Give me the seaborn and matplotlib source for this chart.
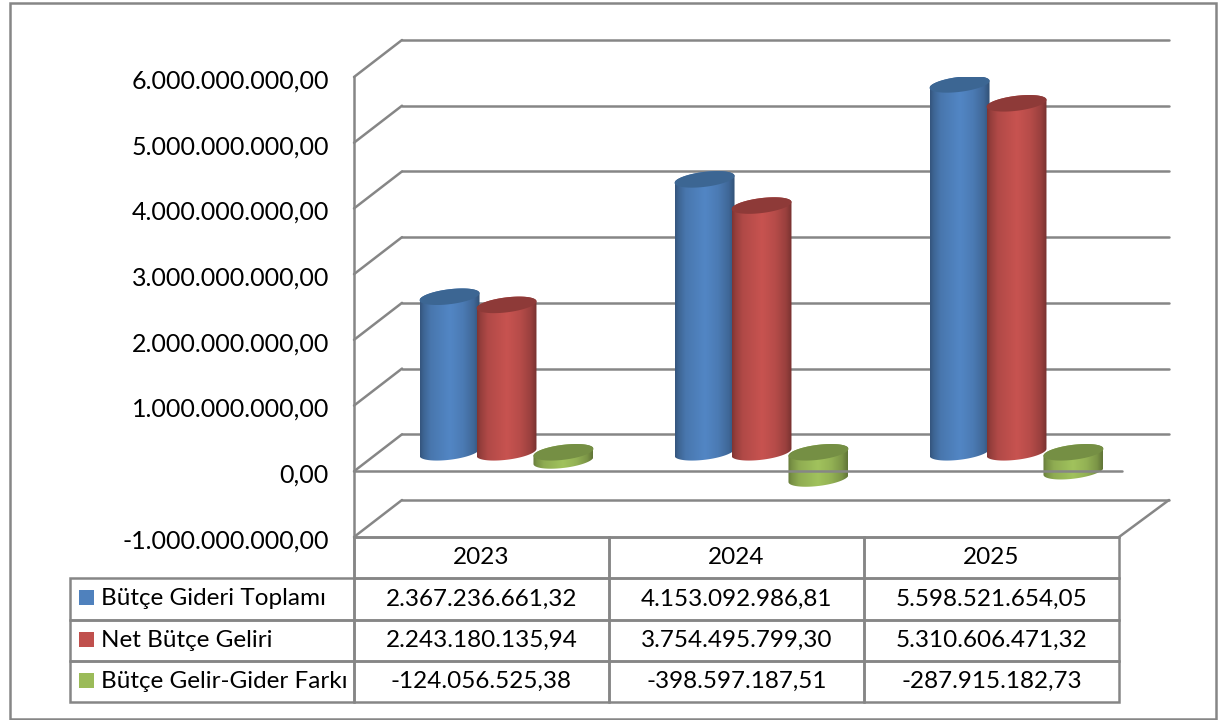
import numpy as np
import pandas as pd
import seaborn as sns
import matplotlib
matplotlib.use("Agg")
import matplotlib.pyplot as plt
from matplotlib.patches import Polygon, Rectangle
from matplotlib.ticker import FuncFormatter
from matplotlib.transforms import ScaledTranslation

years = ["2023", "2024", "2025"]
series_names = ["Bütçe Gideri Toplamı", "Net Bütçe Geliri", "Bütçe Gelir-Gider Farkı"]
gider = [2367236661.32, 4153092986.81, 5598521654.05]
gelir = [2243180135.94, 3754495799.30, 5310606471.32]
fark = [-124056525.38, -398597187.51, -287915182.73]
series_colors = ["#4F81BD", "#C0504D", "#9BBB59"]
cap_colors = ["#3C6693", "#8E3A38", "#758F44"]
value_ticks = [-1e9, 0, 1e9, 2e9, 3e9, 4e9, 5e9, 6e9]

GRID = "#868686"
LW = 1.8
W, H = 1219, 720


def tr(v):
    s = f"{v:,.2f}"
    return s.replace(",", "#").replace(".", ",").replace("#", ".")


sns.set_theme(style="white")
plt.rcParams["font.family"] = ["Lato", "DejaVu Sans"]

fig = plt.figure(figsize=(W / 100, H / 100), dpi=100, facecolor="white")
ax = fig.add_axes([354 / W, (H - 537) / H, 765 / W, 460 / H])

df = pd.DataFrame({
    "year": years * 3,
    "series": [n for n in series_names for _ in years],
    "value": gider + gelir + fark,
})
sns.barplot(data=df, x="year", y="value", hue="series", hue_order=series_names,
            palette=series_colors, width=0.67, gap=0, errorbar=None, legend=False,
            saturation=1, ax=ax)

XLIM, YLIM = (-0.5, 2.5), (-1e9, 6e9)
px_x = 3.0 / 765
px_y = 7e9 / 460
DEPTH_X, DEPTH_Y = 48 * px_x, 37 * px_y
MID_X, MID_Y = 25 * px_x, 19 * px_y

# walls and gridlines
for v in value_ticks:
    ax.plot([XLIM[0], XLIM[0] + DEPTH_X], [v, v + DEPTH_Y], color=GRID, lw=LW,
            clip_on=False, zorder=1, solid_capstyle="round")
    ax.plot([XLIM[0] + DEPTH_X, XLIM[1] + 50 * px_x], [v + DEPTH_Y, v + DEPTH_Y],
            color=GRID, lw=LW, clip_on=False, zorder=1)
ax.plot([XLIM[1], XLIM[1] + 50 * px_x], [YLIM[0], YLIM[0] + DEPTH_Y], color=GRID,
        lw=LW, clip_on=False, zorder=1)
ax.plot([XLIM[0], XLIM[1] + 3 * px_x], [0, 0], color=GRID, lw=LW, clip_on=False, zorder=10)

# cylinders built on the bars that seaborn positioned
a_scale = 60 / 57
b = 7.5 * px_y
s = 3.5 * px_y
ts_low = np.linspace(np.pi, 2 * np.pi, 60)
ts_up = np.linspace(0, np.pi, 60)
stops = [0, .06, .18, .5, .72, .9, 1]
factors = [.66, .78, .92, 1.04, .95, .80, .62]
grad = np.interp(np.linspace(0, 1, 200), stops, factors)[None, :, None]

for i, container in enumerate(ax.containers):
    base = np.array(matplotlib.colors.to_rgb(series_colors[i]))
    img = np.clip(grad * base, 0, 1)
    for bar in container:
        cx = bar.get_x() + bar.get_width() / 2 + MID_X
        a = bar.get_width() * a_scale / 2
        y0 = bar.get_y() + MID_Y
        y1 = y0 + bar.get_height()
        top, bot = max(y0, y1), min(y0, y1)
        # the bar itself stays as the flat core of the cylinder
        bar.set_x(cx - a * 0.8)
        bar.set_width(a * 1.6)
        bar.set_y(y0)
        bar.set_zorder(2 + i)
        low = np.c_[cx + a * np.cos(ts_low), bot + b * np.sin(ts_low) + s * np.cos(ts_low)]
        up = np.c_[cx + a * np.cos(ts_up), top + b * np.sin(ts_up) + s * np.cos(ts_up)]
        body = Polygon(np.r_[low, up], closed=True, transform=ax.transData)
        im = ax.imshow(img, extent=(cx - a, cx + a, bot - 2 * b - s, top + 2 * b + s),
                       aspect="auto", zorder=2.2 + i, interpolation="bilinear", origin="lower")
        im.set_clip_path(body)
        tt = np.linspace(0, 2 * np.pi, 120)
        cap = np.c_[cx + a * np.cos(tt), top + b * np.sin(tt) + s * np.cos(tt)]
        ax.add_patch(Polygon(cap, closed=True, facecolor=cap_colors[i], edgecolor="none",
                             zorder=2.4 + i))

ax.set_xlim(*XLIM)
ax.set_ylim(*YLIM)
ax.set_facecolor("none")
ax.set_xlabel("")
ax.set_ylabel("")
ax.set_yticks(value_ticks)
ax.yaxis.set_major_formatter(FuncFormatter(lambda v, _: tr(v)))
ax.tick_params(axis="y", length=0, pad=18, labelsize=18, labelcolor="black")
ax.tick_params(axis="x", length=0, labelbottom=False)
for label in ax.get_yticklabels():
    label.set_transform(label.get_transform() + ScaledTranslation(0, -2 / 100, fig.dpi_scale_trans))
for side in ["top", "right"]:
    ax.spines[side].set_visible(False)
for side in ["left", "bottom"]:
    ax.spines[side].set_color(GRID)
    ax.spines[side].set_linewidth(LW)

# data table: first column holds the series names, its header cell stays open
cell_text = [[name] + [tr(v) for v in row]
             for name, row in zip(series_names, (gider, gelir, fark))]
tbl = ax.table(cellText=cell_text, colLabels=[""] + years,
               cellLoc="center", colLoc="center",
               bbox=[(70 - 354) / 765, -(702 - 537) / 460, (1119 - 70) / 765, 165 / 460])
tbl.auto_set_font_size(False)
for (r, c), cell in tbl.get_celld().items():
    cell.set_edgecolor(GRID)
    cell.set_linewidth(LW)
    cell.set_facecolor("none")
    cell.set_width(284 if c == 0 else 255)
    cell.set_height(41)
    if c == 0:
        cell.get_text().set_ha("left")
        cell.PAD = 31 / 284
        cell.get_text().set_fontsize(17.5)
        if r == 0:
            cell.visible_edges = "R"
    else:
        cell.PAD = 0.02
        cell.get_text().set_fontsize(17.5)
    cell.get_text().set_color("black")

# legend keys inside the table
for row, col in zip([577, 619, 660], series_colors):
    fig.add_artist(Rectangle((79 / W, (H - row - 28) / H), 15 / W, 15 / H,
                             transform=fig.transFigure, facecolor=col, edgecolor="none"))

# chart frame
fig.add_artist(Rectangle((9.5 / W, (H - 719) / H), (1216 - 9.5) / W, 716 / H,
                         transform=fig.transFigure, facecolor="none", edgecolor=GRID, lw=LW))

fig.savefig("out.png", dpi=100)
